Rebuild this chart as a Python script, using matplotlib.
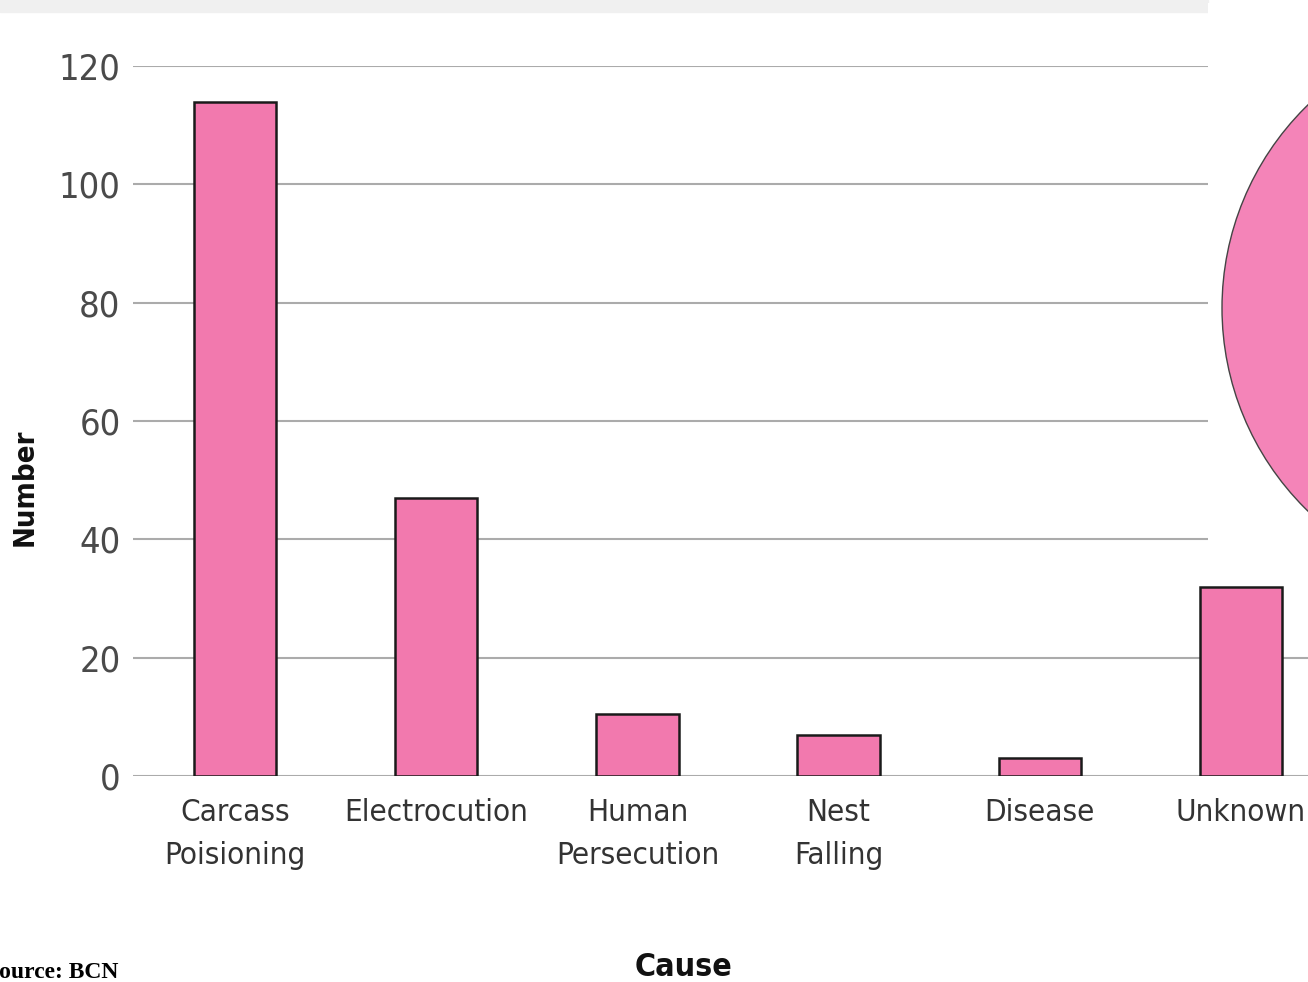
import matplotlib.pyplot as plt
from matplotlib.patches import Rectangle, Ellipse

# causes of death and counts
causes = ["Carcass\nPoisioning", "Electrocution", "Human\nPersecution",
          "Nest\nFalling", "Disease", "Unknown"]
counts = [114, 47, 10.5, 7, 3, 32]
yticks = [0, 20, 40, 60, 80, 100, 120]

W, H = 1308, 982
fig = plt.figure(figsize=(W / 100, H / 100), dpi=100)
fig.patch.set_facecolor("white")

# axes placed in pixel terms: left 133, right edge of figure, baseline at 776, top at 66
ax = fig.add_axes([133 / W, 1 - 776 / H, (W - 133) / W, (776 - 66) / H])
xs = list(range(len(causes)))
ax.bar(xs, counts, width=0.41, color="#F279AE", edgecolor="#1a1a1a",
       linewidth=1.8, zorder=3)
ax.set_xlim(-0.507, 5.333)
ax.set_ylim(0, 120)
ax.set_yticks(yticks)
ax.set_yticklabels([str(t) for t in yticks])
ax.grid(axis="y", color="#ABABAB", linewidth=1.5, zorder=0)
ax.set_axisbelow(True)
for s in ax.spines.values():
    s.set_visible(False)

lab_font = ["DejaVu Sans"]
ax.tick_params(axis="y", length=0, pad=9, labelsize=26, labelcolor="#4a4a4a")
for lab in ax.get_yticklabels():
    lab.set_family(lab_font)
    lab.set_fontstretch("condensed")
ax.set_xticks(xs)
ax.set_xticklabels(causes, family=lab_font, fontstretch="condensed",
                   fontsize=22.5, color="#333333", linespacing=1.58, va="top")
ax.tick_params(axis="x", length=0, pad=16)

ax.set_ylabel("Number", family=lab_font, fontstretch="condensed",
              fontweight="bold", fontsize=21, color="#111111", va="center")
ax.yaxis.set_label_coords(-(133 - 25) / (W - 133), (776 - 487) / 710)
fig.text(683 / W, 1 - 967 / H, "Cause", family=lab_font,
         fontstretch="condensed", fontweight="bold",
         fontsize=23, color="#111111", ha="center", va="center")
fig.text(-14 / W, 1 - 972 / H, "Source: BCN", family="Liberation Serif",
         fontweight="bold", fontsize=17, color="black", ha="left", va="center")

# light band along the top
fig.patches.append(Rectangle((0, 1 - 12 / H), 1208 / W, 12 / H,
                             transform=fig.transFigure, color="#F0F0F0",
                             zorder=5))
# white panel with large pink disc at the right edge
fig.patches.append(Rectangle((1208 / W, 1 - 570 / H), 100 / W, 567 / H,
                             transform=fig.transFigure, facecolor="white",
                             edgecolor="none", zorder=6))
r = 283
fig.patches.append(Ellipse((1505 / W, 1 - 308 / H), 2 * r / W, 2 * r / H,
                           transform=fig.transFigure, facecolor="#F484B8",
                           edgecolor="#444444", linewidth=1.0, zorder=7))

fig.savefig("out.png", dpi=100)
